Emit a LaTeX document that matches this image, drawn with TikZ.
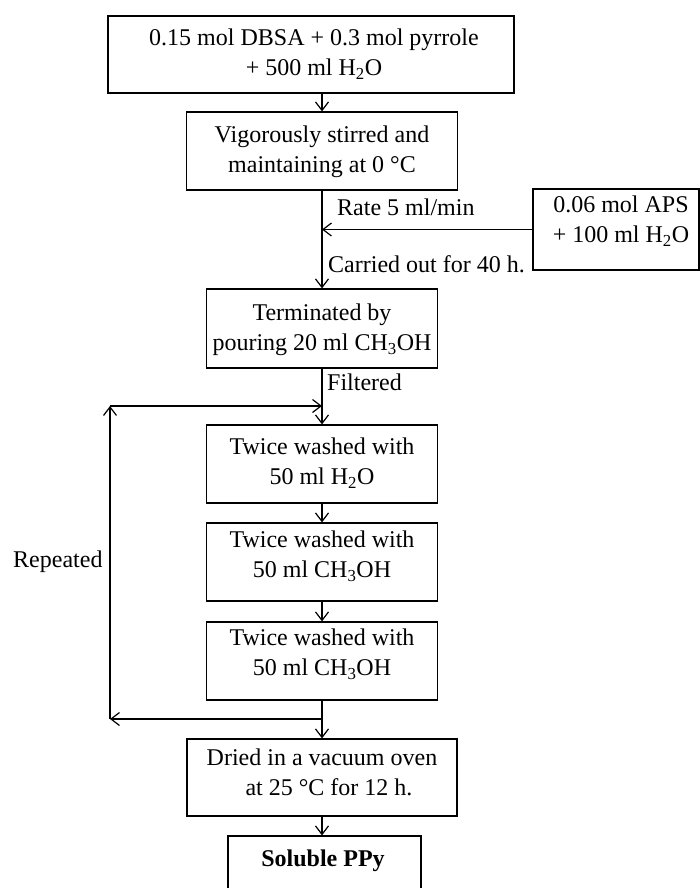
\documentclass[tikz,border=0pt]{standalone}
\usepackage{fontspec}
\setmainfont{Liberation Serif}
\usetikzlibrary{arrows.meta}
\begin{document}
\begin{tikzpicture}[x=1pt,y=-1pt,
  box/.style={draw, line width=1.2pt, inner sep=0pt},
  txt/.style={font=\fontsize{24}{30}\selectfont, align=center, inner sep=0pt},
  lbl/.style={font=\fontsize{24}{30}\selectfont, inner sep=0pt, anchor=base west},
  arr/.style={line width=1.2pt, -{Straight Barb[length=8.5pt,width=13pt]}},
  ln/.style={line width=1.2pt}
]
\useasboundingbox (0,0) rectangle (700,888);

% boxes
\node[box, minimum width=406pt, minimum height=77pt] (b1) at (311,54.5) {};
\node[box, minimum width=271pt, minimum height=78pt] (b2) at (322,151) {};
\node[box, minimum width=166pt, minimum height=81pt] (aps) at (616,229.5) {};
\node[box, minimum width=231pt, minimum height=79pt] (b3) at (322,328.5) {};
\node[box, minimum width=231pt, minimum height=78pt] (b4) at (322,464) {};
\node[box, minimum width=231pt, minimum height=78pt] (b5) at (322,562) {};
\node[box, minimum width=231pt, minimum height=78pt] (b6) at (322,661) {};
\node[box, minimum width=270pt, minimum height=77pt] (b7) at (322,777.5) {};
\node[box, minimum width=193pt, minimum height=78pt] (b8) at (324.5,875) {};

% texts
\node[txt] (t1) at (314,54) {0.15 mol DBSA + 0.3 mol pyrrole\\+ 500 ml H\textsubscript{2}O};
\node[txt] (t2) at (322,151.5) {Vigorously stirred and\\maintaining at 0 °C};
\node[txt] (taps) at (621,221.5) {0.06 mol APS\\+ 100 ml H\textsubscript{2}O};
\node[txt] (t3) at (322,330) {Terminated by\\pouring 20 ml CH\textsubscript{3}OH};
\node[txt] (t4) at (322,463) {Twice washed with\\50 ml H\textsubscript{2}O};
\node[txt] (t5) at (322,556) {Twice washed with\\50 ml CH\textsubscript{3}OH};
\node[txt] (t6) at (322,654) {Twice washed with\\50 ml CH\textsubscript{3}OH};
\node[txt] (t7) at (322,772) {Dried in a vacuum oven\\\hspace*{14pt}at 25 °C for 12 h.};
\node[txt] (t8) at (323,861) {\bfseries Soluble PPy};

% labels
\node[lbl] (lrate) at (337,215) {Rate 5 ml/min};
\node[lbl] (lcarr) at (328,272) {Carried out for 40 h.};
\node[lbl] (lfilt) at (327,390) {Filtered};
\node[lbl] (lrep) at (13,567) {Repeated};

% junctions
\coordinate (j1) at (b2.south |- aps.west);
\coordinate (j2) at (322,406);
\coordinate (j3) at (322,719);
\coordinate (L1) at (110,406);
\coordinate (L2) at (110,719);

% connectors
\draw[arr] (b1.south -| b2.north) -- (b2.north);
\draw[arr] (b2.south) -- (b3.north);
\draw[arr] (aps.west) -- (j1);
\draw[arr] (b3.south) -- (b4.north);
\draw[arr] (L1) -- (j2);
\draw[arr] (b4.south) -- (b5.north);
\draw[arr] (b5.south) -- (b6.north);
\draw[ln] (b6.south) -- (j3);
\draw[arr] (j3) -- (b7.north);
\draw[arr] (j3) -- (L2);
\draw[arr] (L2) -- (L1);
\draw[arr] (b7.south) -- (b7.south |- b8.north);
\end{tikzpicture}
\end{document}
